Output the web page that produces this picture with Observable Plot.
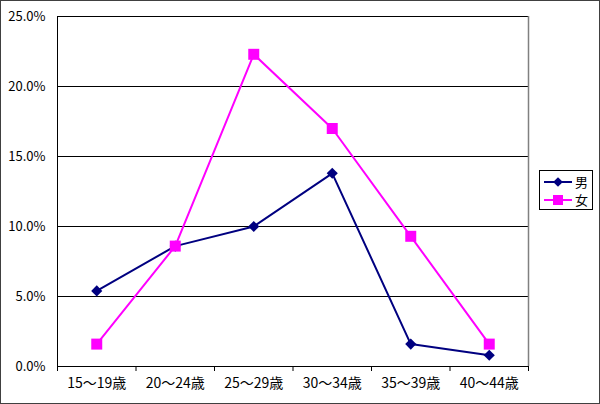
<!DOCTYPE html>
<html>
<head>
<meta charset="utf-8">
<script src="https://cdn.jsdelivr.net/npm/d3@7"></script>
<script src="https://cdn.jsdelivr.net/npm/@observablehq/plot@0.6"></script>
<style>
  html, body { margin: 0; padding: 0; background: #fff; }
  #wrap { position: relative; width: 600px; height: 404px; }
  #border { position: absolute; left: 0; top: 0; width: 600px; height: 404px; box-sizing: border-box; border: 1px solid #404040; pointer-events: none; }
  #legend { position: absolute; left: 539px; top: 170px; width: 54px; height: 40px; box-sizing: border-box; border: 1px solid #000; background: #fff; font-family: "Noto Sans CJK JP", sans-serif; font-size: 13px; }
  #legend .row { position: absolute; left: 3px; height: 16px; display: flex; align-items: center; }
  #legend .row span { margin-left: 2px; line-height: 16px; }
</style>
</head>
<body>
<div id="wrap">
  <div id="chart"></div>
  <div id="legend"></div>
  <div id="border"></div>
</div>
<script>
const categories = ["15〜19歳", "20〜24歳", "25〜29歳", "30〜34歳", "35〜39歳", "40〜44歳"];
const male = [5.4, 8.6, 10.0, 13.8, 1.6, 0.8];
const female = [1.6, 8.6, 22.3, 17.0, 9.3, 1.6];
const yTicks = [0, 5, 10, 15, 20, 25];
const seriesNames = ["男", "女"];
const seriesColors = ["#000080", "#FF00FF"];

const rows = [];
categories.forEach((c, i) => {
  rows.push({series: seriesNames[0], i: i + 0.5, cat: c, v: male[i]});
  rows.push({series: seriesNames[1], i: i + 0.5, cat: c, v: female[i]});
});
const maleRows = rows.filter(d => d.series === seriesNames[0]);
const femaleRows = rows.filter(d => d.series === seriesNames[1]);
const boundaries = d3.range(categories.length + 1);
const centers = categories.map((c, i) => i + 0.5);

const chart = Plot.plot({
  width: 600,
  height: 404,
  marginLeft: 57,
  marginRight: 72,
  marginTop: 16,
  marginBottom: 38,
  style: {fontFamily: "'Noto Sans CJK JP', sans-serif", fontSize: "13px", color: "#000", background: "transparent"},
  x: {type: "linear", domain: [0, categories.length]},
  y: {domain: [0, 25]},
  marks: [
    Plot.ruleY(yTicks.filter(t => t > 0), {stroke: "#000", strokeWidth: 1, shapeRendering: "crispEdges"}),
    Plot.ruleX([categories.length], {stroke: "#808080", strokeWidth: 1.5}),
    Plot.axisY(yTicks, {tickSize: 0, tickPadding: 12, tickFormat: d => d.toFixed(1) + "%", label: null, fontSize: 13}),
    Plot.axisX(boundaries, {tickSize: 5, tickFormat: () => "", label: null, stroke: "#000"}),
    Plot.axisX(centers, {tickSize: 0, tickPadding: 12, tickFormat: d => categories[Math.floor(d)], label: null, fontSize: 14}),
    Plot.ruleX([0], {stroke: "#000", shapeRendering: "crispEdges"}),
    Plot.ruleY([0], {stroke: "#000", shapeRendering: "crispEdges"}),
    Plot.line(maleRows, {x: "i", y: "v", stroke: seriesColors[0], strokeWidth: 2}),
    Plot.line(femaleRows, {x: "i", y: "v", stroke: seriesColors[1], strokeWidth: 2}),
    Plot.dot(maleRows, {x: "i", y: "v", symbol: "diamond2", r: 5, fill: seriesColors[0], stroke: "none"}),
    Plot.dot(femaleRows, {x: "i", y: "v", symbol: "square", r: 6.2, fill: seriesColors[1], stroke: "none"})
  ]
});
document.getElementById("chart").appendChild(chart);

// legend
const legend = document.getElementById("legend");
seriesNames.forEach((name, k) => {
  const row = document.createElement("div");
  row.className = "row";
  row.style.top = (k === 0 ? 3 : 21) + "px";
  const svg = d3.create("svg").attr("width", 30).attr("height", 14);
  svg.append("line").attr("x1", 1).attr("x2", 29).attr("y1", 7).attr("y2", 7)
    .attr("stroke", seriesColors[k]).attr("stroke-width", 2);
  if (k === 0) {
    svg.append("path").attr("d", d3.symbol(d3.symbolDiamond2, 60)()).attr("transform", "translate(15,7)").attr("fill", seriesColors[k]);
  } else {
    svg.append("rect").attr("x", 10).attr("y", 2).attr("width", 10).attr("height", 10).attr("fill", seriesColors[k]);
  }
  row.appendChild(svg.node());
  const s = document.createElement("span");
  s.textContent = name;
  row.appendChild(s);
  legend.appendChild(row);
});
</script>
</body>
</html>
